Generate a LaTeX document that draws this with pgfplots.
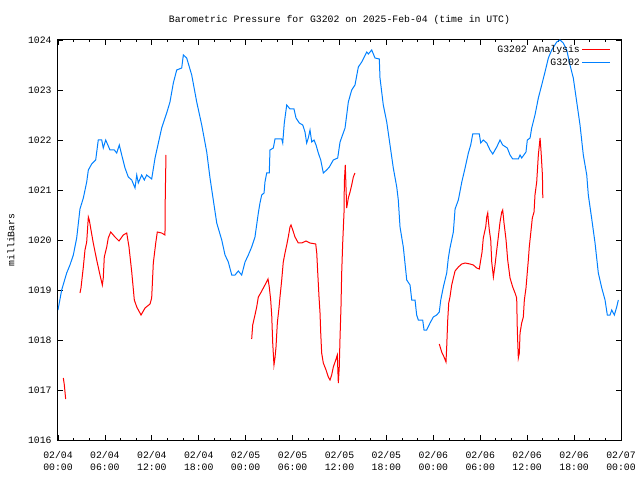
\documentclass[border=0pt]{standalone}
\usepackage{pgfplots}
\pgfplotsset{compat=1.18}
\usepackage{fontspec}
\setmainfont{Liberation Mono}
\definecolor{obsblue}{RGB}{0,128,255}

\begin{document}
\fontsize{9.8pt}{12pt}\selectfont
\begin{tikzpicture}
\useasboundingbox (0,0) rectangle (640pt,480pt);
\begin{axis}[
    at={(58pt,40pt)}, anchor=south west,
    scale only axis, width=563pt, height=400pt,
    xmin=0, xmax=72, ymin=1016, ymax=1024,
    xtick={0,6,...,72},
    minor xtick={0,2,...,72},
    xticklabels={02/04\\00:00,02/04\\06:00,02/04\\12:00,02/04\\18:00,
                 02/05\\00:00,02/05\\06:00,02/05\\12:00,02/05\\18:00,
                 02/06\\00:00,02/06\\06:00,02/06\\12:00,02/06\\18:00,
                 02/07\\00:00},
    xticklabel style={align=center, yshift=-8pt, font=\fontsize{9.8pt}{11.5pt}\selectfont},
    ytick={1016,1017,...,1024},
    yticklabel style={xshift=-3pt},
    /pgf/number format/assume math mode=true,
    /pgf/number format/1000 sep={},
    tick align=inside,
    major tick length=5pt, minor tick length=2.5pt,
    tick style={black, line width=0.8pt},
    axis line style={line width=1pt},
    title={Barometric Pressure for G3202 on 2025-Feb-04 (time in UTC)},
    title style={at={(axis description cs:0.5,1)}, anchor=base, yshift=11pt},
    ylabel={milliBars},
    ylabel style={at={(axis description cs:-0.0835,0.5)}, anchor=center},
    legend plot pos=right,
    legend cell align=right,
    legend style={draw=none, fill=none, at={(axis description cs:1,1)},
        anchor=north east, xshift=-7pt, yshift=-1pt,
        row sep=1pt, nodes={inner sep=2pt}},
    legend image code/.code={\draw[#1] (9pt,0pt) -- (37pt,0pt);},
]
% analysis (red), with gaps
\addplot[red, line width=1pt, unbounded coords=jump] coordinates {
(0.68,1017.24) (0.81,1017.10) (0.98,1016.82)
(1.5,nan)
(2.81,1018.94) (2.94,1019.04) (3.24,1019.46) (3.45,1019.80) (3.67,1019.96)
(3.88,1020.46) (4.00,1020.40) (4.22,1020.20) (4.51,1019.94) (4.95,1019.60)
(5.37,1019.30) (5.67,1019.10) (5.79,1019.24) (5.92,1019.66) (6.23,1019.86)
(6.43,1020.04) (6.74,1020.16) (7.29,1020.06) (7.80,1019.98) (8.35,1020.10)
(8.79,1020.14) (9.08,1019.86) (9.43,1019.36) (9.76,1018.80) (10.07,1018.66)
(10.62,1018.50) (11.13,1018.64) (11.77,1018.72) (11.98,1018.84) (12.19,1019.54)
(12.50,1019.94) (12.70,1020.16) (13.26,1020.14) (13.68,1020.10) (13.72,1020.90)
(13.81,1021.70)
(20,nan)
(24.77,1018.02) (24.90,1018.30) (25.19,1018.50) (25.41,1018.66) (25.62,1018.86)
(25.92,1018.94) (26.26,1019.04) (26.60,1019.14) (26.86,1019.22) (27.02,1019.06)
(27.20,1018.80) (27.33,1018.50) (27.46,1017.94) (27.62,1017.50) (27.75,1017.64)
(27.88,1017.86) (28.05,1018.34) (28.26,1018.64) (28.39,1018.86) (28.61,1019.20)
(28.81,1019.56) (29.03,1019.74) (29.25,1019.90) (29.45,1020.06) (29.67,1020.26)
(29.80,1020.30) (30.02,1020.20) (30.31,1020.06) (30.73,1019.94) (31.17,1019.94)
(31.72,1019.98) (32.23,1019.94) (32.96,1019.92) (33.09,1019.74) (33.22,1019.34)
(33.38,1018.86) (33.51,1018.54) (33.60,1018.14) (33.72,1017.74) (33.93,1017.54)
(34.28,1017.40) (34.57,1017.26) (34.79,1017.20) (35.00,1017.30) (35.21,1017.46)
(35.52,1017.60) (35.72,1017.70) (35.85,1017.14) (35.97,1017.46) (36.07,1018.06)
(36.19,1018.66) (36.28,1019.34) (36.41,1019.94) (36.58,1020.56) (36.62,1021.16)
(36.74,1021.50) (36.83,1021.06) (36.92,1020.64) (37.13,1020.84) (37.35,1020.96)
(37.56,1021.10) (37.77,1021.26) (37.98,1021.34)
(43,nan)
(48.76,1017.92) (49.07,1017.76) (49.37,1017.66) (49.62,1017.56) (49.71,1017.86)
(49.84,1018.40) (49.97,1018.74) (50.13,1018.86) (50.35,1019.10) (50.56,1019.24)
(50.78,1019.38) (51.20,1019.46) (51.64,1019.52) (52.06,1019.54) (52.69,1019.52)
(53.11,1019.50) (53.55,1019.44) (53.88,1019.42) (54.06,1019.60) (54.23,1019.76)
(54.39,1020.04) (54.70,1020.26) (54.83,1020.46) (54.96,1020.54) (55.03,1020.40)
(55.16,1020.20) (55.34,1020.00) (55.47,1019.56) (55.68,1019.26) (55.89,1019.50)
(56.11,1019.80) (56.31,1020.06) (56.53,1020.36) (56.75,1020.56) (56.87,1020.60)
(57.04,1020.34) (57.30,1020.00) (57.51,1019.60) (57.81,1019.24) (58.15,1019.06)
(58.45,1018.94) (58.66,1018.84) (58.74,1018.20) (58.87,1017.64) (59.00,1017.74)
(59.09,1018.14) (59.30,1018.34) (59.51,1018.46) (59.64,1018.80) (59.85,1019.04)
(60.02,1019.36) (60.15,1019.60) (60.27,1019.86) (60.46,1020.14) (60.66,1020.44)
(60.88,1020.56) (61.00,1020.90) (61.22,1021.16) (61.43,1021.70) (61.65,1022.04)
(61.78,1021.76) (61.95,1021.30) (62.00,1020.84)
};
\addlegendentry{G3202 Analysis}
% station (blue)
\addplot[obsblue, line width=1pt] coordinates {
(0.00,1018.60) (0.47,1019.00) (1.11,1019.34) (1.53,1019.50) (1.96,1019.70)
(2.39,1020.04) (2.81,1020.62) (3.24,1020.84) (3.67,1021.16) (3.88,1021.40)
(4.31,1021.52) (4.82,1021.60) (5.15,1022.00) (5.59,1022.00) (5.79,1021.84)
(6.10,1022.00) (6.65,1021.80) (7.20,1021.80) (7.51,1021.74) (7.84,1021.90)
(8.15,1021.70) (8.57,1021.44) (8.99,1021.26) (9.43,1021.20) (9.85,1021.04)
(10.07,1021.30) (10.27,1021.14) (10.70,1021.30) (11.04,1021.20) (11.34,1021.30)
(11.98,1021.22) (12.41,1021.64) (13.26,1022.24) (13.90,1022.54) (14.32,1022.76)
(14.75,1023.14) (15.18,1023.40) (15.82,1023.44) (16.03,1023.70) (16.46,1023.64)
(17.10,1023.30) (17.74,1022.76) (18.38,1022.30) (19.02,1021.76) (19.44,1021.24)
(19.86,1020.80) (20.30,1020.34) (20.94,1020.00) (21.36,1019.70) (21.78,1019.56)
(22.22,1019.30) (22.64,1019.30) (23.06,1019.38) (23.49,1019.30) (23.92,1019.56)
(24.34,1019.70) (24.77,1019.86) (25.19,1020.06) (25.62,1020.54) (25.83,1020.74)
(26.05,1020.90) (26.35,1020.94) (26.47,1021.16) (26.69,1021.34) (27.02,1021.34)
(27.11,1021.80) (27.54,1021.84) (27.75,1022.02) (28.61,1022.02) (28.74,1021.94)
(28.94,1022.34) (29.25,1022.70) (29.67,1022.62) (30.18,1022.62) (30.44,1022.44)
(30.86,1022.34) (31.30,1022.30) (31.59,1022.16) (31.80,1021.94) (32.01,1022.04)
(32.23,1022.20) (32.45,1021.96) (32.74,1022.00) (33.00,1021.90) (33.29,1021.74)
(33.60,1021.60) (33.93,1021.34) (34.36,1021.40) (34.70,1021.46) (35.21,1021.60)
(35.77,1021.64) (36.07,1021.96) (36.71,1022.24) (37.13,1022.76) (37.56,1023.00)
(37.98,1023.10) (38.41,1023.46) (38.84,1023.56) (39.48,1023.76) (39.69,1023.72)
(40.12,1023.80) (40.54,1023.64) (41.09,1023.62) (41.18,1023.24) (41.60,1022.70)
(42.04,1022.36) (42.46,1021.90) (42.88,1021.44) (43.32,1021.06) (43.52,1020.80)
(43.74,1020.26) (44.16,1019.86) (44.60,1019.20) (45.02,1019.10) (45.24,1018.80)
(45.66,1018.80) (45.87,1018.50) (46.08,1018.40) (46.64,1018.40) (46.81,1018.20)
(47.15,1018.20) (47.58,1018.34) (48.00,1018.46) (48.43,1018.50) (48.76,1018.56)
(48.95,1018.80) (49.28,1019.06) (49.71,1019.34) (49.92,1019.64) (50.13,1019.84)
(50.56,1020.16) (50.78,1020.62) (51.20,1020.80) (51.64,1021.16) (52.06,1021.44)
(52.48,1021.74) (52.78,1021.90) (53.04,1022.12) (53.88,1022.12) (54.06,1021.94)
(54.39,1022.00) (54.83,1021.94) (55.25,1021.80) (55.60,1021.72) (56.11,1021.86)
(56.53,1022.00) (56.87,1021.90) (57.46,1021.84) (57.81,1021.70) (58.15,1021.62)
(58.87,1021.62) (59.09,1021.70) (59.30,1021.64) (59.85,1021.76) (60.02,1022.00)
(60.37,1022.04) (60.58,1022.24) (61.00,1022.50) (61.43,1022.84) (61.86,1023.10)
(62.28,1023.36) (62.71,1023.64) (63.14,1023.80) (63.78,1023.96) (64.20,1024.00)
(64.62,1023.94) (65.06,1023.80) (65.48,1023.50) (65.90,1023.24) (66.34,1022.76)
(66.76,1022.30) (67.18,1021.70) (67.62,1021.30) (67.82,1020.90) (68.26,1020.42)
(68.68,1019.94) (69.10,1019.34) (69.54,1019.04) (69.96,1018.80) (70.25,1018.50)
(70.60,1018.50) (70.81,1018.60) (71.15,1018.50) (71.45,1018.66) (71.66,1018.80)
};
\addlegendentry{G3202}
\end{axis}
\end{tikzpicture}
\end{document}
